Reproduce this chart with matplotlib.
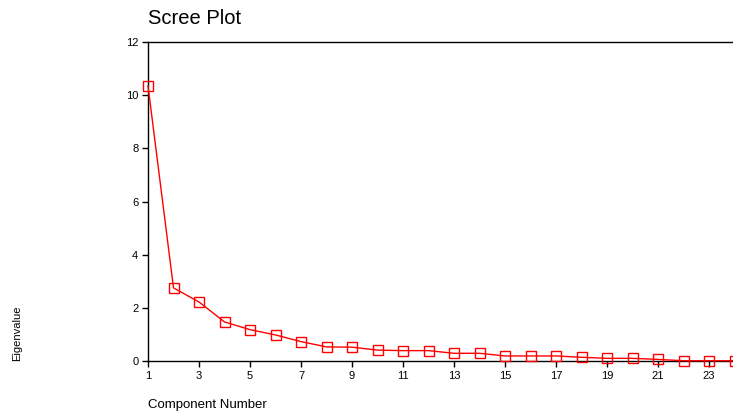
import matplotlib
matplotlib.use("Agg")
import matplotlib.pyplot as plt

components = list(range(1, 25))
eigenvalues = [10.35, 2.75, 2.22, 1.47, 1.18, 0.98, 0.73, 0.53, 0.52, 0.41,
               0.39, 0.39, 0.29, 0.29, 0.19, 0.19, 0.19, 0.14, 0.10, 0.10,
               0.06, 0.01, 0.01, 0.01]
x_ticks = list(range(1, 24, 2))
y_ticks = [0, 2, 4, 6, 8, 10, 12]

plt.rcParams["font.family"] = ["Liberation Sans", "DejaVu Sans"]

fig = plt.figure(figsize=(7.33, 4.12), dpi=100)
W, H = 733, 412
ax = fig.add_axes([148 / W, (H - 361) / H, (734.5 - 148) / W, (361 - 42) / H])

ax.plot(components, eigenvalues, color="#ff0000", linewidth=1,
        marker="s", markersize=6.5, markerfacecolor="none",
        markeredgecolor="#ff0000", markeredgewidth=1, clip_on=False, zorder=3)

ax.set_xlim(1, 24)
ax.set_ylim(0, 12)
ax.set_xticks(x_ticks)
ax.set_yticks(y_ticks)
ax.tick_params(axis="both", direction="out", length=4, width=1, labelsize=8, pad=3)
ax.spines["right"].set_visible(False)
for s in ("left", "bottom", "top"):
    ax.spines[s].set_linewidth(1)

fig.text(148 / W, 1 - 18 / H, "Scree Plot", fontsize=14.5, ha="left", va="center")
fig.text(148 / W, 1 - 405 / H, "Component Number", fontsize=9.5, ha="left", va="center")
fig.text(17 / W, 1 - 333 / H, "Eigenvalue", fontsize=8, rotation=90,
         ha="center", va="center")

fig.savefig("out.png", dpi=100)
